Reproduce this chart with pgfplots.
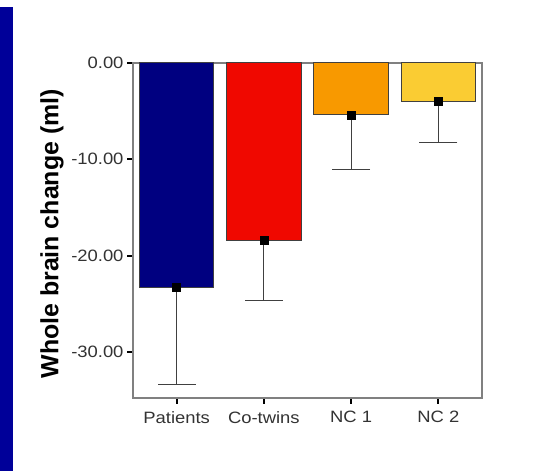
\documentclass[border=0pt]{standalone}
\usepackage{fontspec}
\setmainfont{Liberation Sans}
\newfontfamily\ticksans[FakeStretch=1.12]{Liberation Sans}
\usepackage{pgfplots}
\pgfplotsset{compat=1.18}
\definecolor{stripe}{RGB}{0,0,153}
\definecolor{cpat}{RGB}{0,0,128}
\definecolor{ctwin}{RGB}{240,8,0}
\definecolor{cnc1}{RGB}{248,153,0}
\definecolor{cnc2}{RGB}{250,204,51}
\definecolor{edge}{RGB}{64,64,64}
\definecolor{axisgray}{RGB}{128,128,128}
\begin{document}
\begin{tikzpicture}[x=1bp,y=1bp]
\path[use as bounding box, fill=white] (0,0) rectangle (535,471);
\fill[stripe] (0,0) rectangle (13,464);
\begin{axis}[
  at={(133bp,73bp)}, anchor=south west,
  scale only axis, width=349bp, height=335bp,
  xmin=-0.5, xmax=3.5, ymin=-34.8, ymax=0,
  xtick={0,1,2,3},
  xticklabels={Patients,Co-twins,NC 1,NC 2},
  ytick={0,-10,-20,-30},
  /pgf/number format/assume math mode=true,
  yticklabel style={/pgf/number format/fixed, /pgf/number format/fixed zerofill, /pgf/number format/precision=2, font=\ticksans\fontsize{16.5}{18}\selectfont, text=black!80},
  xticklabel style={font=\ticksans\fontsize{16.5}{18}\selectfont, text=black!80, yshift=-4bp},
  tick align=outside, tick pos=left,
  major tick length=6bp,
  tick style={black, line width=2pt},
  axis line style={axisgray, line width=1.2pt},
  ylabel={Whole brain change (ml)},
  ylabel style={at={(axis description cs:-0.232,0.49)}, anchor=center, font=\bfseries\fontsize{25}{28}\selectfont},
  clip=false,
]
\addplot[ybar, bar width=74.5bp, bar shift=0pt, fill=cpat, draw=edge, line width=1pt] coordinates {(0,-23.3)};
\addplot[ybar, bar width=74.5bp, bar shift=0pt, fill=ctwin, draw=edge, line width=1pt] coordinates {(1,-18.4)};
\addplot[ybar, bar width=74.5bp, bar shift=0pt, fill=cnc1, draw=edge, line width=1pt] coordinates {(2,-5.4)};
\addplot[ybar, bar width=74.5bp, bar shift=0pt, fill=cnc2, draw=edge, line width=1pt] coordinates {(3,-4.0)};
\addplot[only marks, mark=square*, mark size=4bp, black,
  error bars/.cd, y dir=minus, y explicit,
  error bar style={edge, line width=1.1pt},
  error mark options={edge, line width=1.1pt, mark size=19bp, rotate=90}]
  coordinates {(0,-23.3) -= (0,10.1) (1,-18.4) -= (0,6.3) (2,-5.4) -= (0,5.7) (3,-4.0) -= (0,4.25)};
\end{axis}
\end{tikzpicture}
\end{document}
